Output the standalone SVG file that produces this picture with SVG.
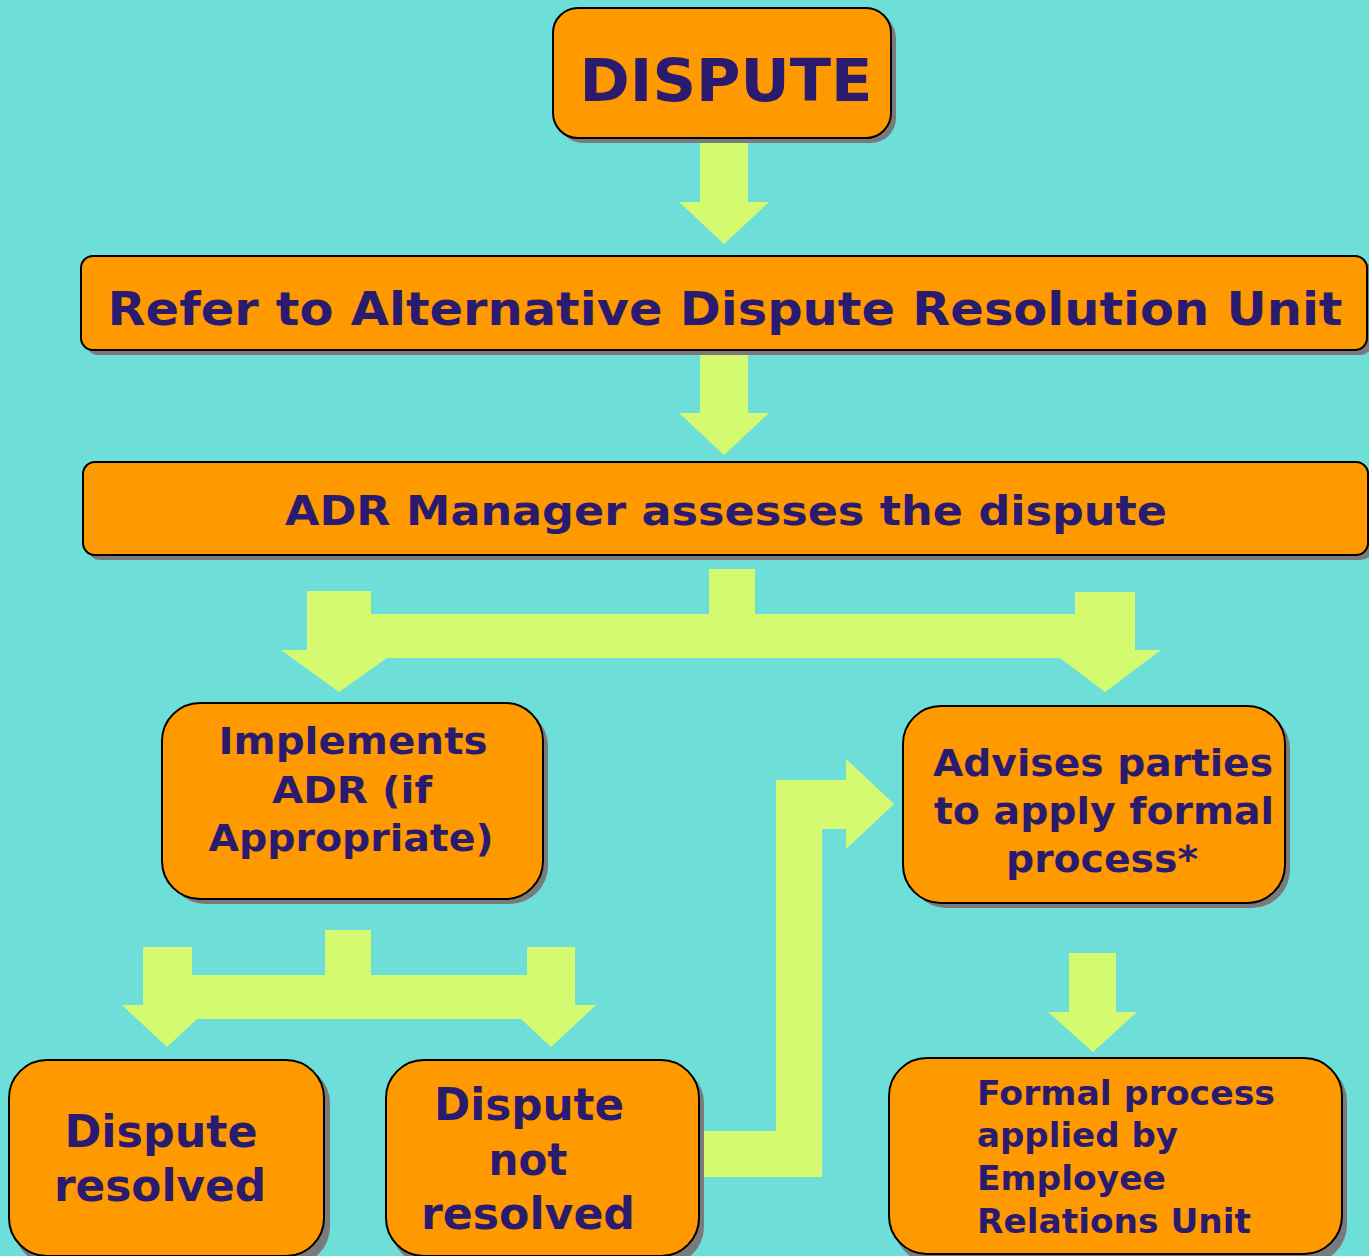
<svg xmlns="http://www.w3.org/2000/svg" width="1369" height="1256" viewBox="0 0 1369 1256">
<style>
.box{fill:#FF9900;stroke:#000;stroke-width:2}
.sh{fill:#7a7a7a}
.t{font-family:"DejaVu Sans","Verdana",sans-serif;font-weight:bold;fill:#2B1B6F;text-anchor:middle}
.tl{font-family:"DejaVu Sans","Verdana",sans-serif;font-weight:bold;fill:#2B1B6F}
.ar{fill:#D4FA70}
</style>
<rect width="1369" height="1256" fill="#6EDED9"/>
<g id="connectors">
<polygon class="ar" points="700,143 748,143 748,202 769,202 724,244 679,202 700,202"/>
<polygon class="ar" points="700,355 748,355 748,413 769,413 724,455 679,413 700,413"/>
<polygon class="ar" points="709,569 755,569 755,614 1075,614 1075,592 1135,592 1135,650 1161,650 1105,692 1060,658 387,658 339,692 281,650 307,650 307,591 371,591 371,614 709,614"/>
<polygon class="ar" points="325,930 371,930 371,975 527,975 527,947 575,947 575,1005 596,1005 551,1047 521,1019 197,1019 167,1047 122,1005 143,1005 143,947 192,947 192,975 325,975"/>
<polygon class="ar" points="701,1131 776,1131 776,780 846,780 846,759 894,804 846,849 846,829 822,829 822,1177 701,1177"/>
<polygon class="ar" points="1069,953 1116,953 1116,1012 1137,1012 1093,1052 1048,1012 1069,1012"/>
</g>
<g id="dispute">
<rect class="sh" x="558" y="13" width="338" height="130" rx="25"/>
<rect class="box" x="553" y="8" width="338" height="130" rx="25"/>
<text class="t" x="726" y="101" font-size="58" textLength="293" lengthAdjust="spacingAndGlyphs">DISPUTE</text>
</g>
<g id="refer">
<rect class="sh" x="86" y="261" width="1286" height="94" rx="12"/>
<rect class="box" x="81" y="256" width="1286" height="94" rx="12"/>
<text class="t" x="725" y="325" font-size="46" textLength="1235" lengthAdjust="spacingAndGlyphs">Refer to Alternative Dispute Resolution Unit</text>
</g>
<g id="assess">
<rect class="sh" x="88" y="467" width="1285" height="93" rx="12"/>
<rect class="box" x="83" y="462" width="1285" height="93" rx="12"/>
<text class="t" x="726" y="525" font-size="41" textLength="882" lengthAdjust="spacingAndGlyphs">ADR Manager assesses the dispute</text>
</g>
<g id="implements">
<rect class="sh" x="167" y="708" width="381" height="196" rx="38"/>
<rect class="box" x="162" y="703" width="381" height="196" rx="38"/>
<text class="t" x="353" y="754" font-size="38" textLength="269" lengthAdjust="spacingAndGlyphs">Implements</text>
<text class="t" x="352" y="803" font-size="38" textLength="160" lengthAdjust="spacingAndGlyphs">ADR (if</text>
<text class="t" x="351" y="851" font-size="38" textLength="285" lengthAdjust="spacingAndGlyphs">Appropriate)</text>
</g>
<g id="advises">
<rect class="sh" x="908" y="711" width="382" height="197" rx="38"/>
<rect class="box" x="903" y="706" width="382" height="197" rx="38"/>
<text class="t" x="1103" y="776" font-size="38" textLength="340" lengthAdjust="spacingAndGlyphs">Advises parties</text>
<text class="t" x="1104" y="824" font-size="38" textLength="340" lengthAdjust="spacingAndGlyphs">to apply formal</text>
<text class="t" x="1102" y="872" font-size="38" textLength="192" lengthAdjust="spacingAndGlyphs">process*</text>
</g>
<g id="resolved">
<rect class="sh" x="14" y="1065" width="316" height="200" rx="38"/>
<rect class="box" x="9" y="1060" width="315" height="196" rx="38"/>
<text class="t" x="161" y="1147" font-size="44" textLength="193" lengthAdjust="spacingAndGlyphs">Dispute</text>
<text class="t" x="160" y="1201" font-size="44" textLength="212" lengthAdjust="spacingAndGlyphs">resolved</text>
</g>
<g id="notresolved">
<rect class="sh" x="391" y="1065" width="313" height="200" rx="38"/>
<rect class="box" x="386" y="1060" width="313" height="196" rx="38"/>
<text class="t" x="529" y="1120" font-size="44" textLength="190" lengthAdjust="spacingAndGlyphs">Dispute</text>
<text class="t" x="528" y="1175" font-size="44" textLength="79" lengthAdjust="spacingAndGlyphs">not</text>
<text class="t" x="528" y="1229" font-size="44" textLength="214" lengthAdjust="spacingAndGlyphs">resolved</text>
</g>
<g id="formal">
<rect class="sh" x="894" y="1063" width="453" height="200" rx="38"/>
<rect class="box" x="889" y="1058" width="453" height="196" rx="38"/>
<text class="tl" x="977" y="1105" font-size="33" textLength="298" lengthAdjust="spacingAndGlyphs">Formal process</text>
<text class="tl" x="977" y="1147" font-size="33" textLength="201" lengthAdjust="spacingAndGlyphs">applied by</text>
<text class="tl" x="977" y="1190" font-size="33" textLength="189" lengthAdjust="spacingAndGlyphs">Employee</text>
<text class="tl" x="977" y="1233" font-size="33" textLength="274" lengthAdjust="spacingAndGlyphs">Relations Unit</text>
</g>
</svg>
